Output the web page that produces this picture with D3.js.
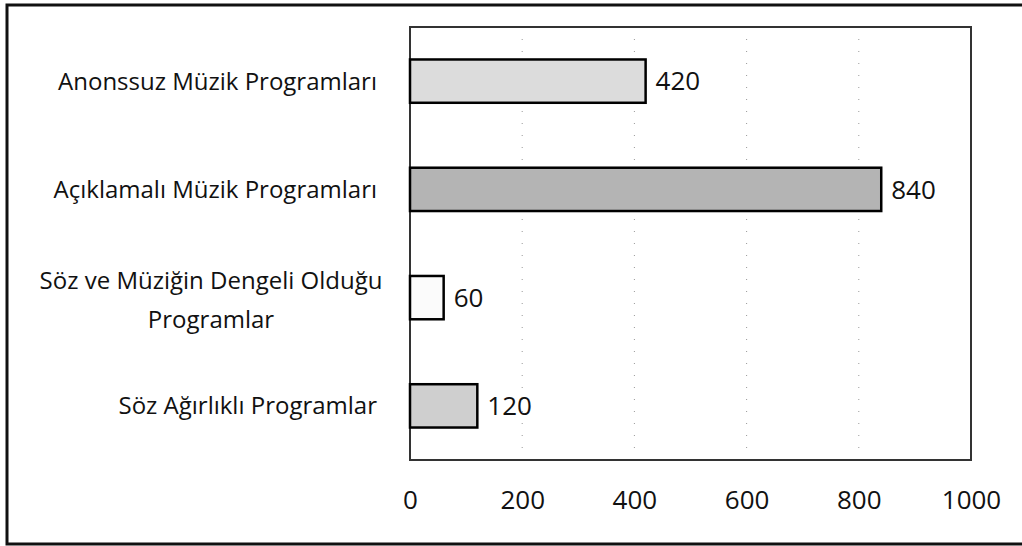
<!DOCTYPE html>
<html>
<head>
<meta charset="utf-8">
<script src="https://cdn.jsdelivr.net/npm/d3@7"></script>
<style>
  body { margin: 0; background: #fff; }
  text { font-family: "Open Sans", sans-serif; fill: #111; }
</style>
</head>
<body>
<svg id="chart"></svg>
<script>
// chart size
const width = 1022;
const height = 546;
const marginTop = 27;
const marginRight = 51;
const marginBottom = 86;
const marginLeft = 410;

// data
const categories = [
  "Anonssuz Müzik Programları",
  "Açıklamalı Müzik Programları",
  "Söz ve Müziğin Dengeli Olduğu|Programlar",
  "Söz Ağırlıklı Programlar"
];
const values = [420, 840, 60, 120];
const tickValues = [0, 200, 400, 600, 800, 1000];
const fills = ["#dcdcdc", "#b4b4b4", "#fbfbfb", "#cfcfcf"];

const data = categories.map((c, i) => ({ name: c, value: values[i], fill: fills[i] }));

const svg = d3.select("#chart")
    .attr("width", width)
    .attr("height", height)
    .attr("viewBox", [0, 0, width, height]);

// outer frame (right side runs off the scan)
svg.append("path")
    .attr("d", `M1022,5 H7 V544 H1022`)
    .attr("fill", "none")
    .attr("stroke", "#111")
    .attr("stroke-width", 3);

const x = d3.scaleLinear()
    .domain([0, 1000])
    .range([marginLeft, width - marginRight]);

const y = d3.scaleBand()
    .domain(data.map(d => d.name))
    .range([marginTop, height - marginBottom])
    .paddingInner(0.6)
    .paddingOuter(0.3);

// dotted gridlines
svg.append("g")
    .selectAll("line")
    .data(tickValues.slice(1, -1))
    .join("line")
    .attr("x1", d => x(d))
    .attr("x2", d => x(d))
    .attr("y1", marginTop)
    .attr("y2", height - marginBottom)
    .attr("stroke", "#999")
    .attr("stroke-width", 1)
    .attr("stroke-dasharray", "1,11");

// plot area frame
svg.append("rect")
    .attr("x", x(0))
    .attr("y", marginTop)
    .attr("width", x(1000) - x(0))
    .attr("height", height - marginBottom - marginTop)
    .attr("fill", "none")
    .attr("stroke", "#333")
    .attr("stroke-width", 2);

// bars
svg.append("g")
    .selectAll("rect")
    .data(data)
    .join("rect")
    .attr("x", x(0))
    .attr("y", d => y(d.name))
    .attr("width", d => x(d.value) - x(0))
    .attr("height", y.bandwidth())
    .attr("fill", d => d.fill)
    .attr("stroke", "#000")
    .attr("stroke-width", 2.5);

// value labels
svg.append("g")
    .selectAll("text")
    .data(data)
    .join("text")
    .attr("x", d => x(d.value) + 10)
    .attr("y", d => y(d.name) + y.bandwidth() / 2)
    .attr("dy", "0.36em")
    .attr("font-size", 26)
    .text(d => d.value);

// category labels
const labels = svg.append("g")
    .selectAll("text")
    .data(data)
    .join("text")
    .attr("font-size", 24)
    .attr("text-anchor", d => d.name.includes("|") ? "middle" : "end")
    .attr("x", d => d.name.includes("|") ? 211 : 377)
    .attr("y", d => y(d.name) + y.bandwidth() / 2);

labels.each(function(d) {
  const lines = d.name.split("|");
  const t = d3.select(this);
  lines.forEach((line, i) => {
    t.append("tspan")
        .attr("x", t.attr("x"))
        .attr("dy", i === 0 ? (8.5 - (lines.length - 1) * 17) : 39)
        .text(line);
  });
});

// x axis labels
svg.append("g")
    .attr("transform", `translate(0,${height - marginBottom + 31})`)
    .call(d3.axisBottom(x).tickValues(tickValues).tickFormat(d3.format("d")).tickSize(0).tickPadding(0))
    .call(g => g.select(".domain").remove())
    .call(g => g.selectAll("text")
        .attr("font-size", 26)
        .attr("font-family", "'Open Sans', sans-serif")
        .attr("fill", "#111"));
</script>
</body>
</html>
